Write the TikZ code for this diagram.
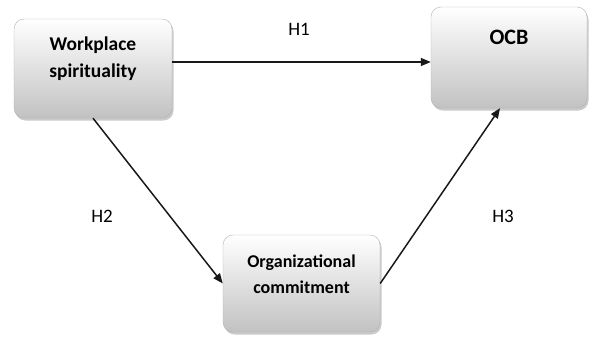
\documentclass[tikz,border=0pt]{standalone}
\usepackage{fontspec}
\setmainfont{Carlito}
\usetikzlibrary{arrows.meta,shadows}
\tikzset{
  box/.style={draw=gray!60, rounded corners=10pt, top color=white, bottom color=gray!48,
    minimum width=158pt, minimum height=99pt, inner sep=0pt,
    drop shadow={shadow xshift=1.5pt, shadow yshift=-2.5pt, fill=gray!70, opacity=0.6}},
  boxtext/.style={align=center, inner sep=0pt},
  link/.style={-{Triangle[length=10pt,width=8pt]}, line width=1.5pt, black!90},
  hyp/.style={font=\fontsize{19}{23}\selectfont}
}
\begin{document}
\begin{tikzpicture}[x=1pt, y=-1pt]
        \useasboundingbox (0,0) rectangle (589,340);

        % Boxes
        \node[box] (wsp) at (93,68.5) {};
        \node[box, minimum width=156pt, minimum height=101pt] (ocb) at (509,57.5) {};
        \node[box, minimum width=157pt, minimum height=97pt] (orc) at (301.5,283.5) {};

        % Box texts
        \node[boxtext, font=\fontsize{19.5}{27}\selectfont\bfseries] (wsptxt) at ([yshift=10pt]wsp.center) {Workplace\\spirituality};
        \node[boxtext, font=\fontsize{22}{26}\selectfont\bfseries] (ocbtxt) at ([yshift=20pt]ocb.center) {OCB};
        \node[boxtext, font=\fontsize{18}{26}\selectfont\bfseries] (orctxt) at ([yshift=9pt]orc.center) {Organizational\\commitment};

        % Paths
        \draw[link] ([yshift=6.5pt]wsp.east) -- ([yshift=6.5pt]wsp.east -| ocb.west);
        \draw[link] (wsp.south) -- (orc.west);
        \draw[link] (orc.east) -- ([xshift=-9pt]ocb.south);

        % Hypotheses
        \node[hyp] (h1) at (299,29) {H1};
        \node[hyp] (h2) at (102,216) {H2};
        \node[hyp] (h3) at (503,216) {H3};
\end{tikzpicture}
\end{document}
